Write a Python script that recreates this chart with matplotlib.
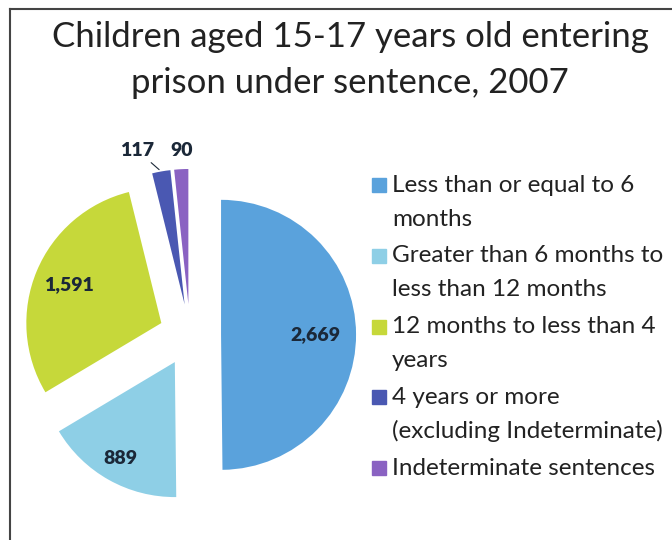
import numpy as np
import matplotlib
matplotlib.use('Agg')
import matplotlib.pyplot as plt
from matplotlib.lines import Line2D
from matplotlib.patches import Rectangle

W, H = 672, 540

title = 'Children aged 15-17 years old entering\nprison under sentence, 2007'
categories = ['Less than or equal to 6\nmonths',
              'Greater than 6 months to\nless than 12 months',
              '12 months to less than 4\nyears',
              '4 years or more\n(excluding Indeterminate)',
              'Indeterminate sentences']
values = [2669, 889, 1591, 117, 90]
colors = ['#5aa2dc', '#8ecfe6', '#c6d83a', '#4a58b2', '#8a62c2']

plt.rcParams['font.family'] = ['Lato', 'DejaVu Sans']
TXT = '#222222'
NAVY = '#1b2838'


def px(x, y):
    # pixel position (from top-left) -> figure fraction
    return x / W, 1 - y / H


fig = plt.figure(figsize=(W / 100, H / 100), dpi=100)
fig.patch.set_facecolor('white')

# pie: centre at (190, 335) px, radius 135 px
R = 135.0
cx, cy = 190.0, 335.0
ax = fig.add_axes([0, 0, 1, 1])
wedges, _ = ax.pie(values, colors=colors, startangle=90, counterclock=False,
                   explode=[0.23] * len(values), radius=1,
                   wedgeprops=dict(linewidth=0))
ax.set_aspect('auto')
ax.set_xlim(-cx / R, (W - cx) / R)
ax.set_ylim(-(H - cy) / R, cy / R)
ax.axis('off')

# value labels inside the three big slices
fracs = [0.70, 0.82, 0.74]
for w, v, f in zip(wedges[:3], values[:3], fracs):
    th = np.deg2rad((w.theta1 + w.theta2) / 2)
    x = w.center[0] + f * w.r * np.cos(th)
    y = w.center[1] + f * w.r * np.sin(th)
    ax.text(x, y, '{:,}'.format(v), ha='center', va='center',
            fontsize=14, fontweight='heavy', color=NAVY)

# small slices labelled above the pie
offsets = [(-24, 21), (0, 19)]
for w, v, off in zip(wedges[3:], values[3:], offsets):
    th = np.deg2rad((w.theta1 + w.theta2) / 2)
    x = w.center[0] + w.r * np.cos(th)
    y = w.center[1] + w.r * np.sin(th)
    arrow = dict(arrowstyle='-', lw=0.8, color=NAVY, shrinkA=1, shrinkB=2) if off[0] else None
    ax.annotate('{:,}'.format(v), xy=(x, y), xytext=off,
                textcoords='offset pixels', ha='center', va='center',
                fontsize=14, fontweight='heavy', color=NAVY,
                arrowprops=arrow)

# title
fig.text(*px(350, 37), title.split('\n')[0], ha='center', va='center',
         fontsize=25, color=TXT)
fig.text(*px(350, 83), title.split('\n')[1], ha='center', va='center',
         fontsize=25, color=TXT)

# legend
y0 = 185
step = 70.8
for i, (lab, c) in enumerate(zip(categories, colors)):
    yy = y0 + i * step
    sx, sy = px(372, yy + 7)
    fig.patches.append(Rectangle((sx, sy), 14 / W, 14 / H, color=c,
                                 transform=fig.transFigure, figure=fig))
    for k, line in enumerate(lab.split('\n')):
        fig.text(*px(392, yy + k * 34), line, ha='left', va='center',
                 fontsize=17.5, color=TXT)

# frame lines (top and left)
fig.add_artist(Line2D([10 / W, 1], [1 - 9 / H, 1 - 9 / H], color='#444444',
                      lw=1.5, transform=fig.transFigure))
fig.add_artist(Line2D([10 / W, 10 / W], [0, 1 - 9 / H], color='#444444',
                      lw=1.5, transform=fig.transFigure))

fig.savefig('out.png', dpi=100)
